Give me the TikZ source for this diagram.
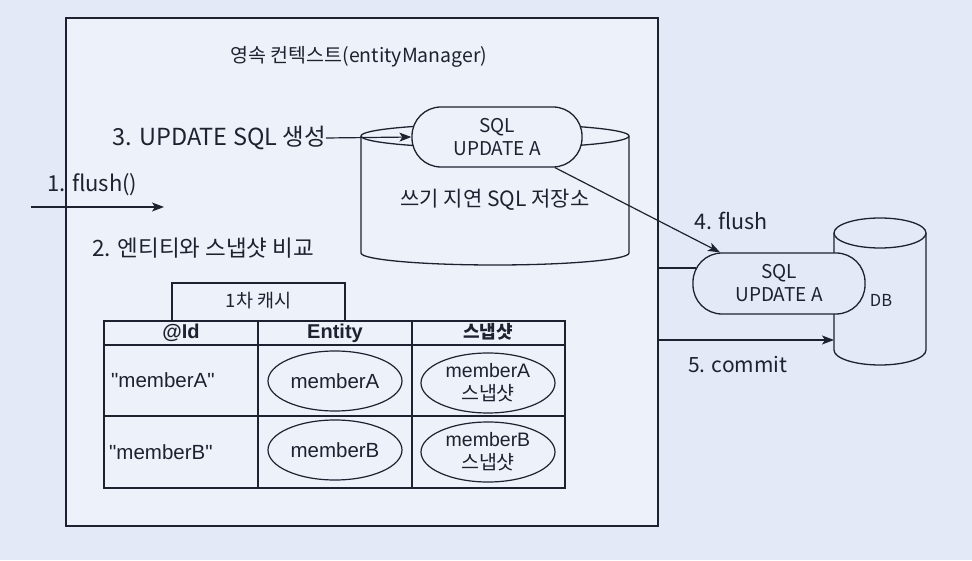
\documentclass[tikz,border=0pt]{standalone}
\usepackage{fontspec}
\setmainfont{Noto Sans CJK KR}
\newfontfamily\arialf{Liberation Sans}
\newfontfamily\kr{Noto Sans CJK KR}
\usetikzlibrary{arrows.meta,calc}
\definecolor{bgc}{HTML}{E3E9F6}
\definecolor{boxc}{HTML}{EDF1F9}
\definecolor{ink}{HTML}{1E2230}
\tikzset{
  x=1pt,y=1pt,
  pill/.style={draw=ink,line width=1.3pt,fill=boxc,rounded corners=29pt,align=center,font=\fontsize{19}{23}\selectfont,inner sep=0pt,text=ink},
  lbl/.style={draw=none,font=\fontsize{22}{24}\selectfont,text=ink,inner sep=0pt},
  tbl/.style={draw=none,font=\arialf\fontsize{20.5}{23}\selectfont,text=ink,inner sep=0pt,align=center},
  ln/.style={draw=ink,line width=1.2pt},
  arr/.style={-{Stealth[length=12pt,width=9pt,inset=3pt]},draw=ink,line width=1.2pt}
}
\begin{document}
\begin{tikzpicture}
\useasboundingbox (0,0) rectangle (972,560);
\fill[bgc] (0,0) rectangle (972,560);
% main box
\node[draw=ink,line width=1.5pt,fill=boxc,minimum width=592pt,minimum height=508pt,inner sep=0pt] (box) at (362,288) {};
\node[lbl,font=\fontsize{19.5}{22}\selectfont] (title) at (359,503) {영속 컨텍스트(entityManager)};
% store cylinder
\path[draw=ink,line width=1.3pt,fill=boxc] (361,424) -- (361,307) arc[start angle=180,end angle=360,x radius=134,y radius=12] -- (629,424) arc[start angle=0,end angle=180,x radius=134,y radius=12] -- cycle;
\draw[ln,line width=1.3pt] (361,424) arc[start angle=180,end angle=360,x radius=134,y radius=12];
\node[lbl,font=\fontsize{21}{23}\selectfont] (store) at (495,360) {쓰기 지연 SQL 저장소};
\node[pill,minimum width=170pt,minimum height=60pt] (p1) at (497,423) {SQL\\UPDATE A};
% DB cylinder
\path[draw=ink,line width=1.3pt,fill=bgc] (834,327) -- (834,210) arc[start angle=180,end angle=360,x radius=46,y radius=15] -- (926,327) arc[start angle=0,end angle=180,x radius=46,y radius=15] -- cycle;
\draw[ln,line width=1.3pt] (834,327) arc[start angle=180,end angle=360,x radius=46,y radius=15];
\coordinate (dbl) at (834,220);
\node[lbl,font=\fontsize{16.5}{18}\selectfont] (db) at (881,260) {DB};
\node[pill,minimum width=172pt,minimum height=61pt,fill=bgc] (p2) at (779,276.5) {SQL\\UPDATE A};
% labels and arrows
\node[lbl,anchor=east,font=\fontsize{23.5}{26}\selectfont] (t3) at (326,422) {3. UPDATE SQL 생성};
\draw[arr] (t3.east) -- (p1.west);
\node[lbl,anchor=west] (t1) at (47,375) {1. flush()};
\coordinate (f1) at (31,353);
\coordinate (f2) at (164,353);
\draw[arr] (f1) -- (f2);
\node[lbl,anchor=west,font=\fontsize{22.5}{25}\selectfont] (t2) at (92,312) {2. 엔티티와 스냅샷 비교};
\draw[arr] ($(p1.south)+(58,0)$) -- ($(p2.north)+(-59,0)$);
\node[lbl,anchor=west,font=\fontsize{21.5}{24}\selectfont] (t4) at (694,339) {4. flush};
\coordinate (b1) at (658,292);
\draw[ln] (b1) -- ($(p2.west)+(4,15.5)$);
\coordinate (b2) at (658,220);
\draw[arr] (b2) -- (dbl);
\node[lbl,anchor=west,font=\fontsize{21}{24}\selectfont] (t5) at (688,195) {5. commit};
% cache tab
\node[draw=ink,line width=1.2pt,fill=boxc,minimum width=173pt,minimum height=38pt,inner sep=0pt] (tab) at (258.5,258) {};
\node[lbl,font=\fontsize{18.5}{20}\selectfont] (tabt) at (258.5,259) {1차 캐시};
% table
\path[draw=ink,line width=1.3pt,fill=boxc] (104,72) rectangle (565,239);
\draw[ln] (104,215) -- (565,215);
\draw[ln] (104,144) -- (565,144);
\draw[ln] (258,72) -- (258,239);
\draw[ln] (412,72) -- (412,239);
\node[tbl,font=\arialf\bfseries\fontsize{20}{22}\selectfont] (h1) at (181,227) {@Id};
\node[tbl,font=\arialf\bfseries\fontsize{20}{22}\selectfont] (h2) at (335,227) {Entity};
\node[tbl,font=\kr\bfseries\fontsize{18}{21}\selectfont] (h3) at (488,228) {스냅샷};
\node[tbl,anchor=west] (r1) at (111,179.5) {"memberA"};
\node[tbl,anchor=west] (r2) at (109,108) {"memberB"};
\draw[ln] (335,179) ellipse[x radius=67,y radius=30];
\draw[ln] (335,110) ellipse[x radius=67,y radius=30];
\draw[ln] (488,177) ellipse[x radius=67,y radius=30];
\draw[ln] (488,108) ellipse[x radius=67,y radius=30];
\node[tbl] (e1) at (335,179) {memberA};
\node[tbl] (e2) at (335,110) {memberB};
\node[tbl,font=\arialf\fontsize{19.5}{23}\selectfont] (s1) at (488,177) {memberA\\{\kr 스냅샷}};
\node[tbl,font=\arialf\fontsize{19.5}{23}\selectfont] (s2) at (488,108) {memberB\\{\kr 스냅샷}};
\end{tikzpicture}
\end{document}
